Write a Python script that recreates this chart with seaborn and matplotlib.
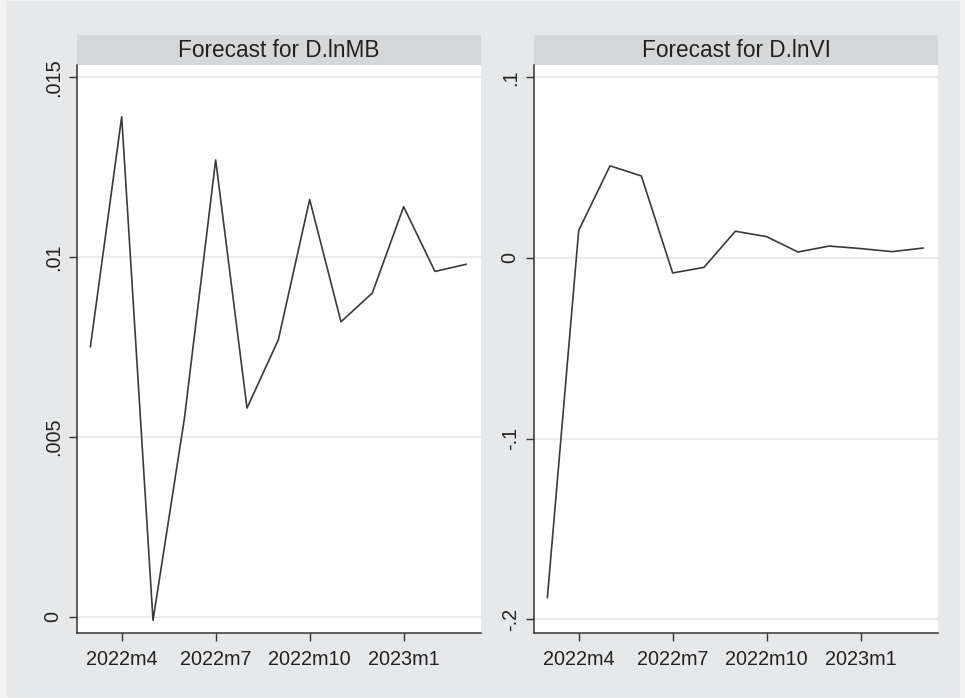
import matplotlib
matplotlib.use("Agg")
import matplotlib.pyplot as plt
from matplotlib.patches import Rectangle
import numpy as np
import pandas as pd
import seaborn as sns

# Monthly forecast horizon
months = ["2022m3", "2022m4", "2022m5", "2022m6", "2022m7", "2022m8", "2022m9",
          "2022m10", "2022m11", "2022m12", "2023m1", "2023m2", "2023m3"]

# Forecast values for the differenced log series
d_lnMB = [0.0075, 0.0139, -0.0001, 0.0055, 0.0127, 0.0058, 0.0077,
          0.0116, 0.0082, 0.0090, 0.0114, 0.0096, 0.0098]
d_lnVI = [-0.188, 0.0152, 0.0510, 0.0454, -0.0083, -0.0052, 0.0148,
          0.0118, 0.0033, 0.0066, 0.0052, 0.0035, 0.0055]

x_tick_labels = ["2022m4", "2022m7", "2022m10", "2023m1"]

panel_titles = ["Forecast for D.lnMB", "Forecast for D.lnVI"]
y_ticks = [[0, 0.005, 0.01, 0.015], [-0.2, -0.1, 0, 0.1]]
y_tick_labels = [["0", ".005", ".01", ".015"], ["-.2", "-.1", "0", ".1"]]
y_limits = [(-0.000445, 0.01534), (-0.2074, 0.1068)]

df = pd.DataFrame({"t": np.arange(len(months)), "month": months,
                   "D.lnMB": d_lnMB, "D.lnVI": d_lnVI})

sns.set_theme(style="white")
plt.rcParams["font.family"] = ["Liberation Sans", "DejaVu Sans"]

BG = "#e7e8ea"
STRIP = "#d6d7d9"
INK = "#3a3a3a"
GRID = "#e9e9e9"

fig = plt.figure(figsize=(9.65, 6.98), dpi=100, facecolor="#f3f3f3")
W, H = 965, 698
# graph region behind both panels
fig.patches.append(Rectangle((6 / W, 1 / H), (960 - 6) / W, (697 - 1) / H,
                             transform=fig.transFigure, facecolor=BG,
                             edgecolor="none", zorder=-5))

plot_top, plot_bottom = 65, 632.7
panels_x = [(77.3, 480.7), (534.3, 937.7)]
strip_h = 30 / (plot_bottom - plot_top)

xtick_pos = [months.index(m) for m in x_tick_labels]

for i, (x0, x1) in enumerate(panels_x):
    ax = fig.add_axes([x0 / W, 1 - plot_bottom / H, (x1 - x0) / W,
                       (plot_bottom - plot_top) / H])
    ax.set_zorder(1)
    ax.set_facecolor("white")
    col = "D.lnMB" if i == 0 else "D.lnVI"
    sns.lineplot(data=df, x="t", y=col, ax=ax, color=INK, linewidth=1.2,
                 zorder=3)
    ax.set_xlim(-0.417, 12.46)
    ax.set_ylim(*y_limits[i])
    ax.set_yticks(y_ticks[i])
    ax.set_yticklabels(y_tick_labels[i], rotation=90, va="center")
    ax.set_xticks(xtick_pos)
    ax.set_xticklabels(x_tick_labels)
    ax.set_xlabel("")
    ax.set_ylabel("")
    for yv in y_ticks[i]:
        ax.axhline(yv, color=GRID, linewidth=1.3, zorder=1)
    for s in ["top", "right"]:
        ax.spines[s].set_visible(False)
    for s in ["left", "bottom"]:
        ax.spines[s].set_color("#333333")
        ax.spines[s].set_linewidth(1.1)
    ax.tick_params(axis="both", which="major", length=6, width=1.0,
                   color="#333333", labelsize=14.3, labelcolor="#222222",
                   direction="out", left=True, bottom=True)
    ax.tick_params(axis="y", pad=4.5)
    ax.tick_params(axis="x", pad=6.5)
    # title strip
    ax.add_patch(Rectangle((0, 1), 1, strip_h, transform=ax.transAxes,
                           facecolor=STRIP, edgecolor="none", clip_on=False))
    ax.text(0.5, 1 + strip_h / 2, panel_titles[i], transform=ax.transAxes,
            ha="center", va="center", fontsize=16.3, color="#222222")

fig.savefig("out.png", dpi=100, facecolor=fig.get_facecolor())
